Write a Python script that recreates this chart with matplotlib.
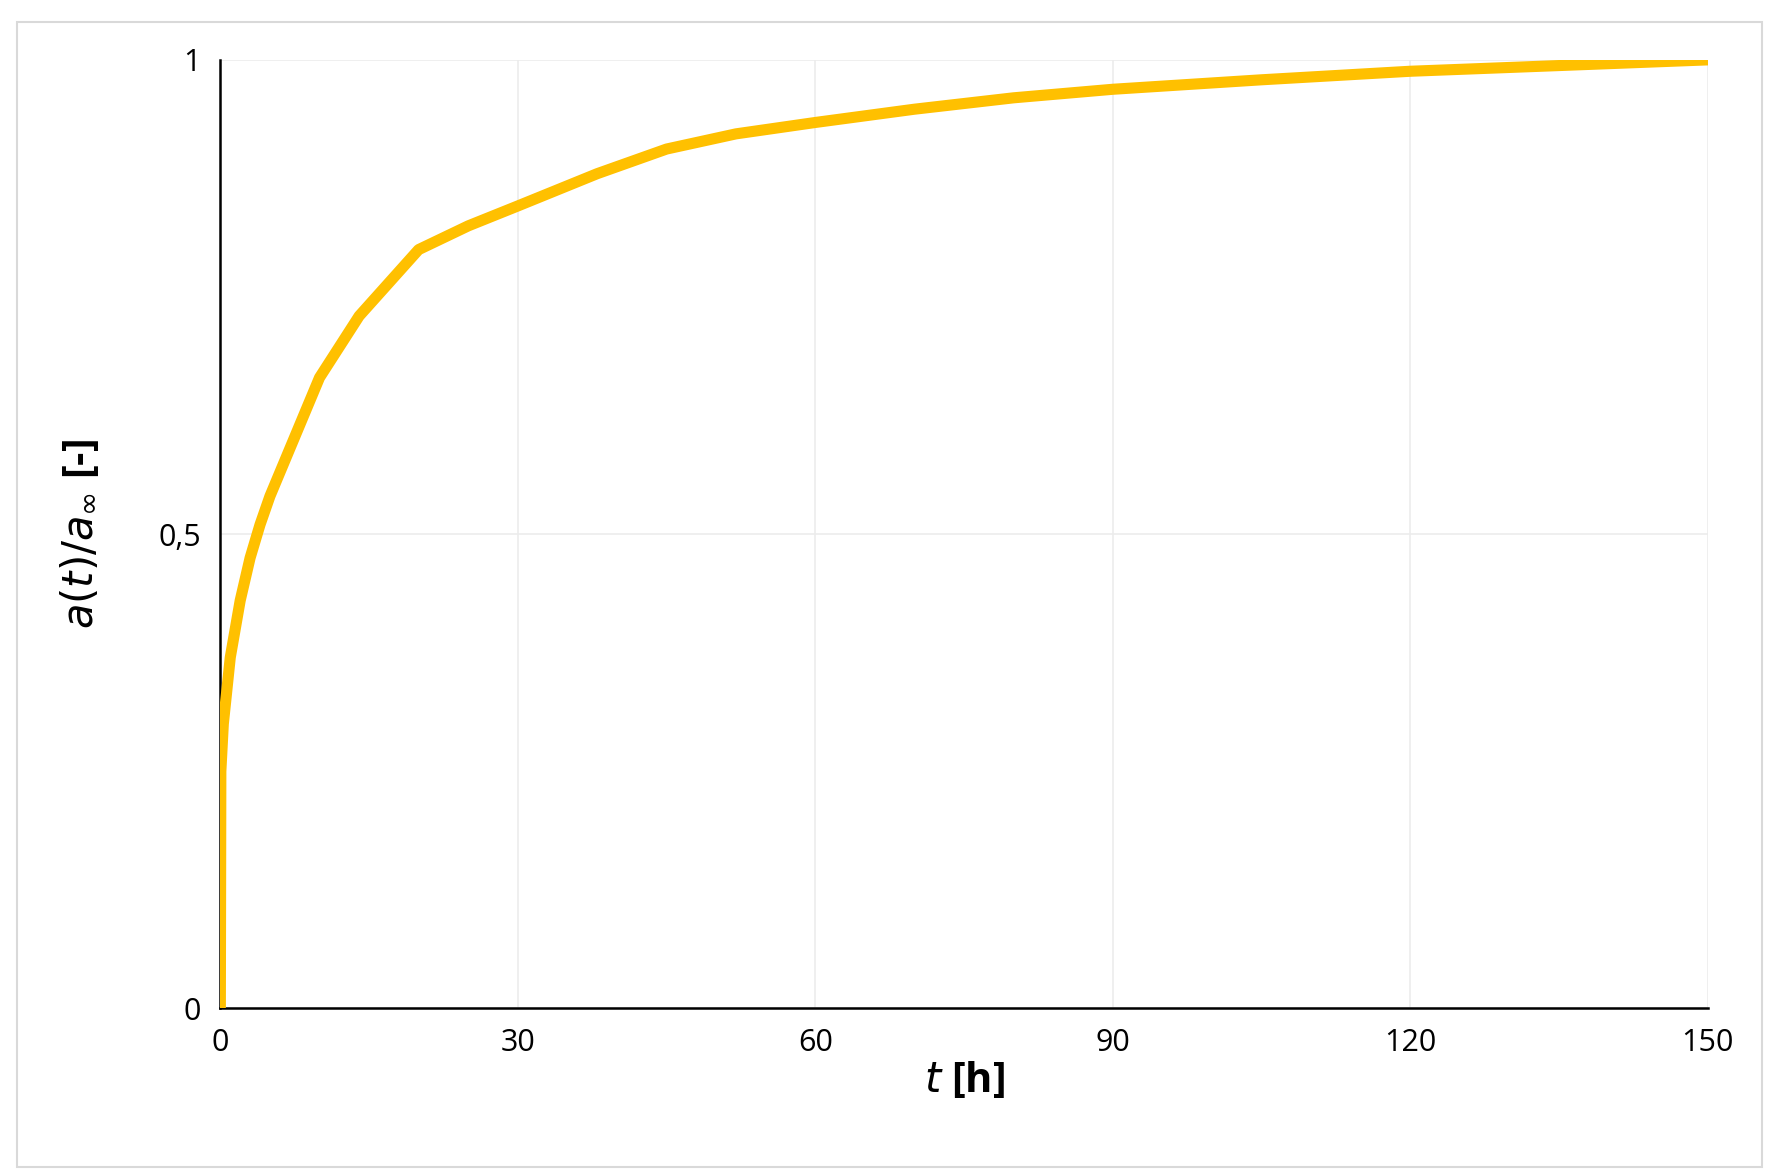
import matplotlib.pyplot as plt
from matplotlib.patches import Rectangle

t_hours = [0, 0.05, 0.3, 1, 2, 3, 4, 5, 7, 10, 14, 20, 25, 30, 38, 45, 52, 60, 70, 80, 90, 105, 120, 135, 150]
ratio = [0, 0.25, 0.30, 0.37, 0.43, 0.475, 0.51, 0.54, 0.59, 0.665, 0.73, 0.80, 0.825, 0.846, 0.88, 0.906, 0.922, 0.934, 0.948, 0.96, 0.969, 0.979, 0.988, 0.994, 1.0]
x_ticks = [0, 30, 60, 90, 120, 150]
y_ticks = [0, 0.5, 1]
y_labels = ['0', '0,5', '1']

plt.rcParams['font.family'] = ['Open Sans', 'DejaVu Sans']

fig = plt.figure(figsize=(17.77, 11.74), dpi=100)
fig.patches.append(Rectangle((0.0096, 0.006), 0.982, 0.975, transform=fig.transFigure,
                             fill=False, edgecolor='#d9d9d9', linewidth=1.5))
ax = fig.add_axes([0.124, 0.141, 0.837, 0.808])

ax.plot(t_hours, ratio, color='#FFC000', linewidth=8, solid_capstyle='round', zorder=3)

ax.set_xlim(0, 150)
ax.set_ylim(0, 1)
ax.set_xticks(x_ticks)
ax.set_yticks(y_ticks)
ax.set_yticklabels(y_labels)
ax.tick_params(length=0, labelsize=22, pad=14)
ax.grid(True, color='#ececec', linewidth=1.2)
ax.set_axisbelow(True)
for s in ['top', 'right']:
    ax.spines[s].set_visible(False)
for s in ['left', 'bottom']:
    ax.spines[s].set_color('black')
    ax.spines[s].set_linewidth(1.8)

ax.set_xlabel(r'$\bf\it{t}$ [h]', fontsize=30, fontweight='bold', labelpad=2)
ax.set_ylabel(r'$\it{a(t)/a_\infty}$ [-]', fontsize=30, fontweight='bold', labelpad=40)

fig.savefig('out.png', dpi=100)
